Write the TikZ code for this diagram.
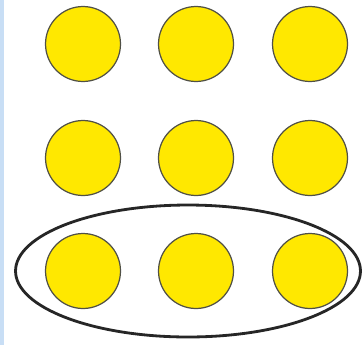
\documentclass[tikz,border=0pt]{standalone}
\usepackage{xcolor}
\usepackage{tikz}
\usetikzlibrary{shapes.geometric}

\definecolor{dotyellow}{RGB}{255,232,0}
\definecolor{dotrim}{RGB}{80,80,70}
\definecolor{edgeblue}{RGB}{200,222,245}

\begin{document}
\begin{tikzpicture}[x=0.02cm,y=-0.02cm,
  dot/.style={circle,draw=dotrim,line width=0.7pt,fill=dotyellow,minimum size=1.5cm,inner sep=0pt},
  ring/.style={ellipse,draw=black!85,line width=1.6pt,minimum width=6.9cm,minimum height=2.64cm,inner sep=0pt}
]
\useasboundingbox (0,0) rectangle (364,345);
\fill[edgeblue] (0,0) rectangle (4,345);
% three rows of dots
\foreach \r/\y in {1/44,2/158,3/271}{
  \foreach \c/\x in {1/83,2/196,3/310}{
    \node[dot] (d\r\c) at (\x,\y) {};
  }
}
% the bottom row is circled
\node[ring] (group) at (188,271) {};
\end{tikzpicture}
\end{document}
